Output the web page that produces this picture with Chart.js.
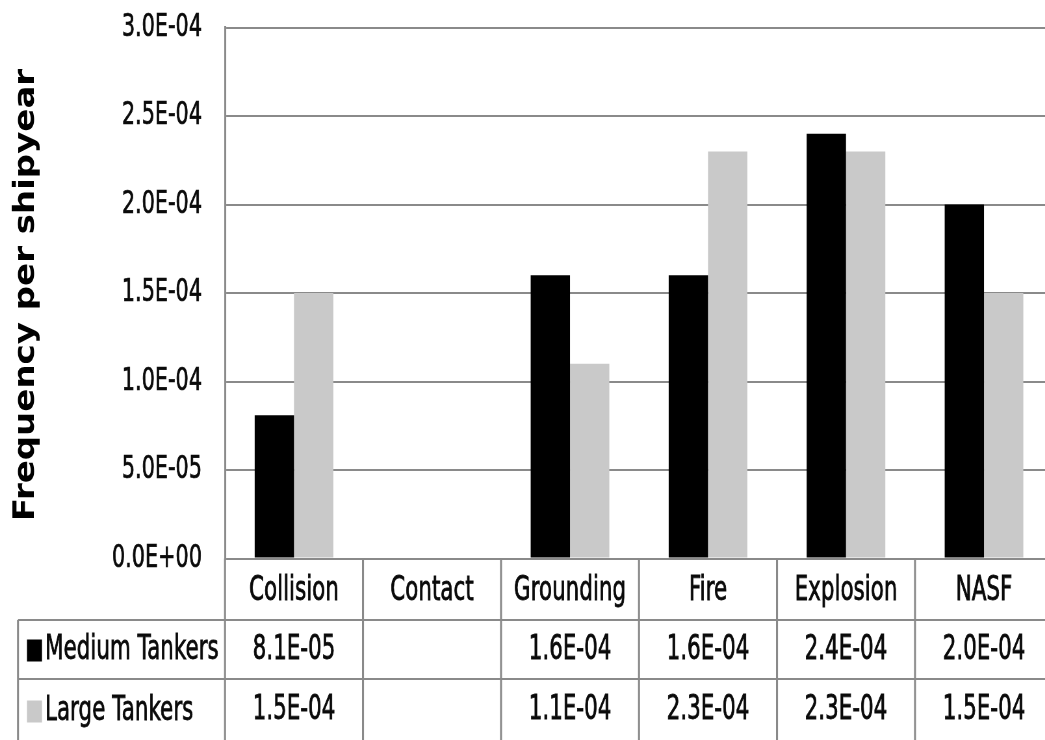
<!DOCTYPE html>
<html>
<head>
<meta charset="utf-8">
<title>Frequency per shipyear</title>
<script src="https://cdn.jsdelivr.net/npm/chart.js@4"></script>
<style>
  html, body { margin: 0; padding: 0; background: #ffffff; overflow: hidden; }
  #wrap { width: 1045px; height: 740px; overflow: hidden; }
  canvas { display: block; }
</style>
</head>
<body>
<div id="wrap">
  <canvas id="chart" width="1631" height="740" style="width:1060px;height:740px"></canvas>
</div>
<script>
// Accident categories and per-series frequencies (per shipyear)
const categories = ['Collision', 'Contact', 'Grounding', 'Fire', 'Explosion', 'NASF'];
const seriesNames = ['Medium Tankers', 'Large Tankers'];
const mediumTankers = [8.1e-5, null, 1.6e-4, 1.6e-4, 2.4e-4, 2.0e-4];
const largeTankers  = [1.5e-4, null, 1.1e-4, 2.3e-4, 2.3e-4, 1.5e-4];
const yAxisTitle = 'Frequency per shipyear';
const yMin = 0, yMax = 3.0e-4, yStep = 5.0e-5;

// The canvas is drawn wide and shown narrower, giving the condensed lettering.
const CSS_W = 1060, CANVAS_W = 1631, CANVAS_H = 740;
const K = CSS_W / CANVAS_W;
const px = d => d / K;            // on-screen x distance -> canvas x distance

const PLOT_TOP = 27.5, PLOT_BOTTOM = 558.5;
const GRID = '#8a8a8a';
const TEXT = '#0a0a0a';
const COLORS = ['#000000', '#c9c9c9'];
const FONT = '"DejaVu Sans", Verdana, sans-serif';

// Exponent notation like 8.1E-05
function fmtE(v) {
  if (v === null || v === undefined) return '';
  const s = Number(v).toExponential(1);
  const parts = s.split('e');
  const sign = parts[1][0] === '-' ? '-' : '+';
  let d = parts[1].replace(/^[+-]/, '');
  if (d.length < 2) d = '0' + d;
  return parts[0] + 'E' + sign + d;
}

// Slightly heavier text for the table cells
function heavyText(ctx, str, x, y) {
  ctx.fillText(str, x, y);
  ctx.strokeText(str, x, y);
}

// Rotated axis title plus the data table underneath the plot
const tablePlugin = {
  id: 'dataTable',
  afterDraw(chart) {
    const ctx = chart.ctx;
    const { left, right, bottom } = chart.chartArea;
    const xs = chart.scales.x;
    const n = categories.length;
    const catW = (right - left) / n;
    const rowEdges = [bottom, 620, 679, 742];
    const tableLeft = px(18);

    ctx.save();
    ctx.strokeStyle = GRID;

    // horizontal rules
    ctx.lineWidth = 2;
    [rowEdges[1], rowEdges[2]].forEach(y => {
      ctx.beginPath();
      ctx.moveTo(tableLeft, y);
      ctx.lineTo(right, y);
      ctx.stroke();
    });

    // vertical rules
    ctx.lineWidth = px(2);
    for (let i = 0; i <= n; i++) {
      const x = left + i * catW;
      ctx.beginPath();
      ctx.moveTo(x, bottom);
      ctx.lineTo(x, CANVAS_H);
      ctx.stroke();
    }
    ctx.beginPath();
    ctx.moveTo(tableLeft, rowEdges[1]);
    ctx.lineTo(tableLeft, CANVAS_H);
    ctx.stroke();

    // category header row and values
    ctx.fillStyle = TEXT;
    ctx.strokeStyle = TEXT;
    ctx.lineWidth = 0.8;
    ctx.font = '33px ' + FONT;
    ctx.textAlign = 'center';
    ctx.textBaseline = 'middle';
    const mid = r => (rowEdges[r] + rowEdges[r + 1]) / 2;
    categories.forEach((c, i) => {
      const cx = xs.getPixelForValue(i);
      heavyText(ctx, c, cx, mid(0) + 2);
      heavyText(ctx, fmtE(mediumTankers[i]), cx, mid(1) + 1);
      heavyText(ctx, fmtE(largeTankers[i]), cx, mid(2));
    });

    // series keys in the first column
    ctx.textAlign = 'left';
    seriesNames.forEach((name, s) => {
      const cy = mid(s + 1) + 1;
      ctx.fillStyle = COLORS[s];
      ctx.fillRect(px(27), cy - 11, px(15), 22);
      ctx.fillStyle = TEXT;
      heavyText(ctx, name, px(45), cy);
    });

    // y axis title
    ctx.translate(px(26), 295);
    ctx.scale(0.86 / K, 1);
    ctx.rotate(-Math.PI / 2);
    ctx.font = 'bold 34px ' + FONT;
    ctx.textAlign = 'center';
    ctx.textBaseline = 'middle';
    ctx.fillStyle = '#000000';
    ctx.fillText(yAxisTitle, 0, 0);
    ctx.restore();
  }
};

new Chart(document.getElementById('chart'), {
  type: 'bar',
  data: {
    labels: categories,
    datasets: [
      { label: seriesNames[0], data: mediumTankers, backgroundColor: COLORS[0] },
      { label: seriesNames[1], data: largeTankers, backgroundColor: COLORS[1] }
    ]
  },
  options: {
    responsive: false,
    animation: false,
    devicePixelRatio: 1,
    layout: {
      padding: { left: 0, top: PLOT_TOP, right: CANVAS_W - px(1053), bottom: CANVAS_H - PLOT_BOTTOM }
    },
    datasets: {
      bar: { categoryPercentage: 0.57, barPercentage: 1.0 }
    },
    plugins: {
      legend: { display: false },
      title: { display: false },
      tooltip: { enabled: false }
    },
    scales: {
      x: {
        display: false,
        offset: true
      },
      y: {
        min: yMin,
        max: yMax,
        afterFit(scale) { scale.width = px(225); },
        ticks: {
          stepSize: yStep,
          padding: 0,
          color: TEXT,
          textStrokeColor: TEXT,
          textStrokeWidth: 0.7,
          font: { family: FONT, size: 32 },
          callback: v => fmtE(v)
        },
        grid: {
          color: GRID,
          lineWidth: 2,
          drawTicks: true,
          tickLength: px(23),
          tickColor: 'rgba(0,0,0,0)'
        },
        border: { display: true, color: GRID, width: px(2) }
      }
    }
  },
  plugins: [tablePlugin]
});
</script>
</body>
</html>
